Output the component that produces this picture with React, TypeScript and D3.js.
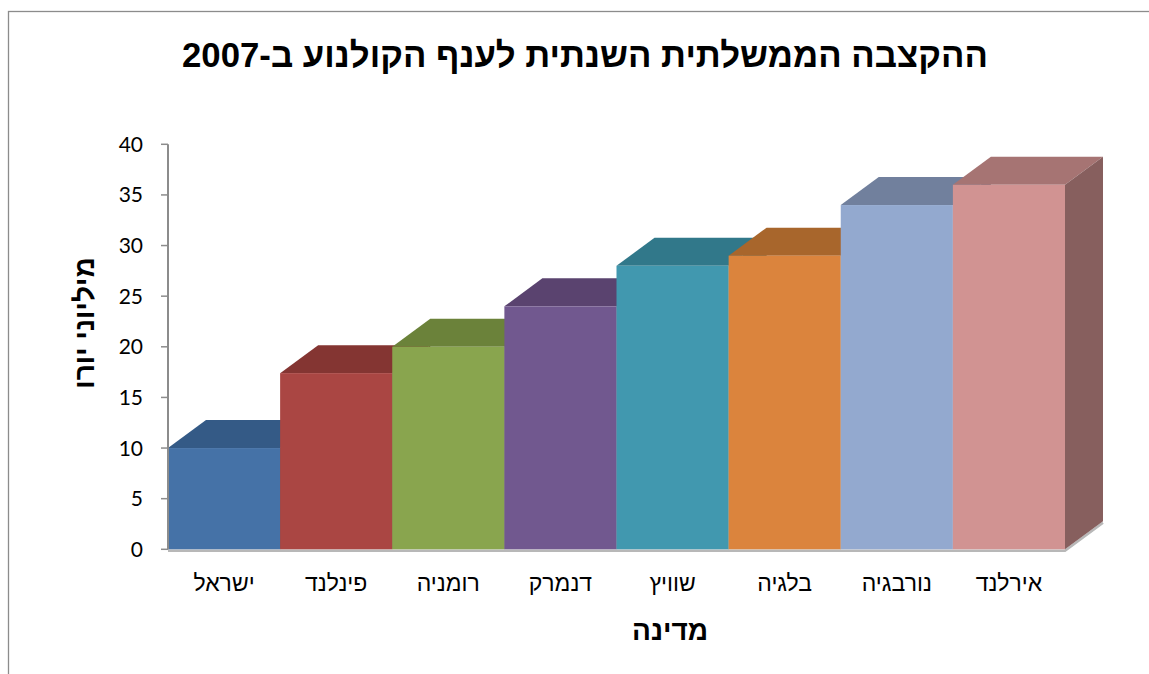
import React from 'react'
import * as d3 from 'd3'

// annual government allocation to the film industry, 2007 (millions of euro)
const countries = ['ישראל', 'פינלנד', 'רומניה', 'דנמרק', 'שוויץ', 'בלגיה', 'נורבגיה', 'אירלנד']
const values = [10, 17.4, 20, 24, 28, 29, 34, 36]
const yTicks = [0, 5, 10, 15, 20, 25, 30, 35, 40]

const title = 'ההקצבה הממשלתית השנתית לענף הקולנוע ב-2007'
const yTitle = 'מיליוני יורו'
const xTitle = 'מדינה'

// front / top / side colours per bar
const frontColors = ['#4572a7', '#aa4643', '#89a54e', '#71588f', '#4198af', '#db843d', '#93a9cf', '#d19392']
const topColors = ['#345a86', '#843532', '#6b823a', '#5a436f', '#31788a', '#a8662c', '#71809d', '#a67473']
const sideColors = ['#2b4a6e', '#6d2b29', '#586b30', '#4a385c', '#286373', '#8a5424', '#5d6a82', '#875f5e']

export default function App() {
  const W = 1149
  const H = 674
  const dx = 38
  const dy = -28

  const x = d3.scaleBand<string>().domain(countries).range([168, 1065]).padding(0)
  const y = d3.scaleLinear().domain([0, 40]).range([549.3, 144.3])

  const heb = "'Liberation Sans', Arial, sans-serif"
  const num = "Lato, 'DejaVu Sans', sans-serif"

  const y0 = y(0)
  const xEnd = x.range()[1]

  return (
    <svg width={W} height={H} style={{ position: 'absolute', left: 0, top: 0, display: 'block', background: '#fff' }}>
      {/* chart frame (only top and left edges visible) */}
      <rect x={8.5} y={11.5} width={W + 20} height={H + 20} fill="none" stroke="#8c8c8c" strokeWidth={1.3} />

      <text x={585} y={67} textAnchor="middle" fontFamily={heb} fontWeight="bold" fontSize={35} direction="rtl"
        textLength={806} lengthAdjust="spacingAndGlyphs">{title}</text>

      {/* floor shadow */}
      <polyline points={`${x.range()[0]},${y0 + 1.5} ${xEnd},${y0 + 1.5} ${xEnd + dx},${y0 + dy + 1.5}`}
        fill="none" stroke="#b8b8b8" strokeWidth={2.5} />

      {/* bars, painted left to right */}
      {countries.map((c, i) => {
        const x0 = x(c) as number
        const x1 = x0 + x.bandwidth()
        const yt = y(values[i])
        const top = `${x0},${yt} ${x1},${yt} ${x1 + dx},${yt + dy} ${x0 + dx},${yt + dy}`
        const side = `${x1},${yt} ${x1 + dx},${yt + dy} ${x1 + dx},${y0 + dy} ${x1},${y0}`
        return (
          <g key={c}>
            <polygon points={top} fill={topColors[i]} />
            <polygon points={side} fill={sideColors[i]} />
            <rect x={x0} y={yt} width={x1 - x0} height={y0 - yt} fill={frontColors[i]} />
          </g>
        )
      })}

      {/* value axis */}
      <line x1={168} x2={168} y1={y(40)} y2={y0} stroke="#8c8c8c" strokeWidth={2} />
      {yTicks.map(t => (
        <g key={t}>
          <line x1={161} x2={168} y1={y(t)} y2={y(t)} stroke="#8c8c8c" strokeWidth={1.5} />
          <text x={143} y={y(t)} dy="0.36em" textAnchor="end" fontFamily={num} fontSize={21} fill="#000">{t}</text>
        </g>
      ))}

      {/* category labels */}
      {countries.map(c => (
        <text key={c} x={(x(c) as number) + x.bandwidth() / 2} y={591} textAnchor="middle" direction="rtl"
          fontFamily={heb} fontSize={23} fill="#000">{c}</text>
      ))}

      <text x={670} y={640} textAnchor="middle" direction="rtl" fontFamily={heb} fontWeight="bold" fontSize={28}>{xTitle}</text>

      <text transform={`translate(94,323) rotate(-90)`} textAnchor="middle" direction="rtl"
        fontFamily={heb} fontWeight="bold" fontSize={28}>{yTitle}</text>
    </svg>
  )
}
